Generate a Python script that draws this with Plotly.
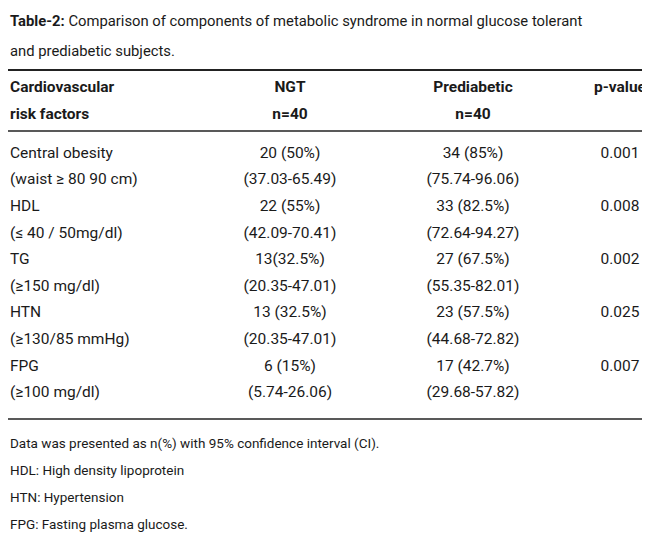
import plotly.graph_objects as go

# Table data
title_lines = ["<b>Table-2:</b> Comparison of components of metabolic syndrome in normal glucose tolerant",
               "and prediabetic subjects."]
header_1 = ["<b>Cardiovascular</b>", "<b>NGT</b>", "<b>Prediabetic</b>", "<b>p-value</b>"]
header_2 = ["<b>risk factors</b>", "<b>n=40</b>", "<b>n=40</b>", ""]
factors = ["Central obesity", "(waist ≥ 80 90 cm)", "HDL", "(≤ 40 / 50mg/dl)", "TG", "(≥150 mg/dl)",
           "HTN", "(≥130/85 mmHg)", "FPG", "(≥100 mg/dl)"]
ngt = ["20 (50%)", "(37.03-65.49)", "22 (55%)", "(42.09-70.41)", "13(32.5%)", "(20.35-47.01)",
       "13 (32.5%)", "(20.35-47.01)", "6 (15%)", "(5.74-26.06)"]
prediabetic = ["34 (85%)", "(75.74-96.06)", "33 (82.5%)", "(72.64-94.27)", "27 (67.5%)", "(55.35-82.01)",
               "23 (57.5%)", "(44.68-72.82)", "17 (42.7%)", "(29.68-57.82)"]
p_values = ["0.001", "", "0.008", "", "0.002", "", "0.025", "", "0.007", ""]
footnotes = ["Data was presented as n(%) with 95% confidence interval (CI).",
             "HDL: High density lipoprotein",
             "HTN: Hypertension",
             "FPG: Fasting plasma glucose."]

FONT = "Roboto, sans-serif"
row_y = [146 + i * 26.6 for i in range(len(factors))]
col_x = [282, 465, 612]

fig = go.Figure()

def add_text(x, y, texts, pos, size=15.5):
    fig.add_trace(go.Scatter(x=x, y=y, text=texts, mode="text", textposition=pos,
                             textfont=dict(family=FONT, size=size, color="#1a1a1a"),
                             cliponaxis=False, hoverinfo="skip", showlegend=False))

add_text([2, 2], [14, 44], title_lines, "middle right", size=14.8)
add_text([2], [80], header_1[:1], "middle right")
add_text([2], [107], header_2[:1], "middle right")
add_text(col_x, [80] * 3, header_1[1:], "middle center")
add_text(col_x, [107] * 3, header_2[1:], "middle center")
add_text([2] * len(factors), row_y, factors, "middle right")
for cx, col in zip(col_x, [ngt, prediabetic, p_values]):
    add_text([cx] * len(col), row_y, col, "middle center")
add_text([2] * len(footnotes), [437 + i * 27 for i in range(len(footnotes))], footnotes,
         "middle right", size=13.5)

for y, w in [(62, 2), (123, 1.5), (411, 1.5)]:
    fig.add_shape(type="line", x0=0, x1=650, y0=y, y1=y, line=dict(color="#222", width=w))

fig.update_layout(
    width=650, height=534, margin=dict(l=0, r=0, t=0, b=0),
    plot_bgcolor="white", paper_bgcolor="white",
    xaxis=dict(range=[0, 650], visible=False),
    yaxis=dict(range=[534, 0], visible=False),
)

fig.write_html("out.html")
